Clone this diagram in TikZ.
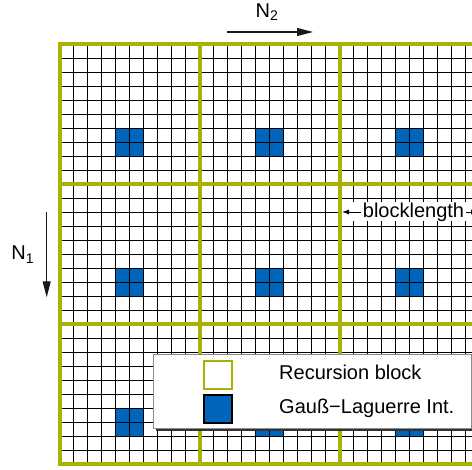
\documentclass[tikz,border=0pt]{standalone}
\usepackage{fontspec}
\setmainfont{Liberation Sans}
\usetikzlibrary{arrows.meta,positioning}
\definecolor{blockyellow}{RGB}{168,178,0}
\definecolor{gaussblue}{RGB}{0,102,187}

\begin{document}
\begin{tikzpicture}[x=1pt,y=1pt,yscale=-1,xscale=1,
  cell/.style={line width=0.9pt,black},
  blockline/.style={line width=4pt,blockyellow,line cap=rect},
  txt/.style={font=\fontsize{20}{24}\selectfont,inner sep=0pt},
  dirarrow/.style={line width=1.1pt,black!90,-{Triangle[length=16pt,width=8pt]}},
  legendsq/.style={minimum size=28pt,inner sep=0pt,line width=1.3pt}]
\useasboundingbox (0,0) rectangle (472,470);

% Grid of recursion blocks
\begin{scope}
\clip (0,0) rectangle (472,470);
\fill[white] (59.5,44) rectangle (479.5,464);
% Gauss-Laguerre points
\foreach \i in {0,1,2} \foreach \j in {0,1,2}
  \fill[gaussblue] ({59.5+140*\i+56},{44+140*\j+84}) rectangle ++(28,28);
% cells
\foreach \k in {1,...,29} {
  \draw[cell] ({59.5+14*\k},44) -- ({59.5+14*\k},464);
  \draw[cell] (59.5,{44+14*\k}) -- (479.5,{44+14*\k});
}
% block borders
\foreach \k in {0,...,3} {
  \draw[blockline] ({59.5+140*\k},44) -- ({59.5+140*\k},464);
  \draw[blockline] (59.5,{44+140*\k}) -- (479.5,{44+140*\k});
}
\end{scope}

% Legend
\fill[black!80] (155.5,356.5) rectangle (473,431);
\draw[fill=white,draw=black!45,line width=0.8pt] (153.3,354.3) rectangle (471,428.7);
\node[legendsq,draw=blockyellow,fill=white] (recsym) at (218,375) {};
\node[legendsq,draw=black,fill=gaussblue] (gausssym) at (218,409) {};
\node[txt,anchor=base west] (rectxt) at (279,380) {Recursion block};
\node[txt,anchor=base west] (gausstxt) at (279,413.3) {Gauß−Laguerre Int.};

% Blocklength
\fill[white] (342,202) rectangle (472,221);
\node[txt,inner sep=2pt] (bl) at (413.5,212) {blocklength};
\coordinate (blL) at (342,212);
\coordinate (blR) at (478,212);
\draw[line width=0.9pt,-{Latex[length=7pt,width=5pt]}] (bl) -- (blL);
\draw[line width=0.9pt,-{Latex[length=7pt,width=5pt]}] (bl) -- (blR);

% Directions
\node[txt,anchor=base west] (n2) at (255.5,17.3) {N\raisebox{-3.5pt}{\fontsize{14}{14}\selectfont 2}};
\coordinate (n2s) at (227,32);
\coordinate (n2e) at (313,32);
\draw[dirarrow] (n2s) -- (n2e);
\node[txt,anchor=base west] (n1) at (11.2,260) {N\raisebox{-3.5pt}{\fontsize{14}{14}\selectfont 1}};
\coordinate (n1s) at (46.7,211.7);
\coordinate (n1e) at (46.7,297.3);
\draw[dirarrow] (n1s) -- (n1e);

\end{tikzpicture}
\end{document}
